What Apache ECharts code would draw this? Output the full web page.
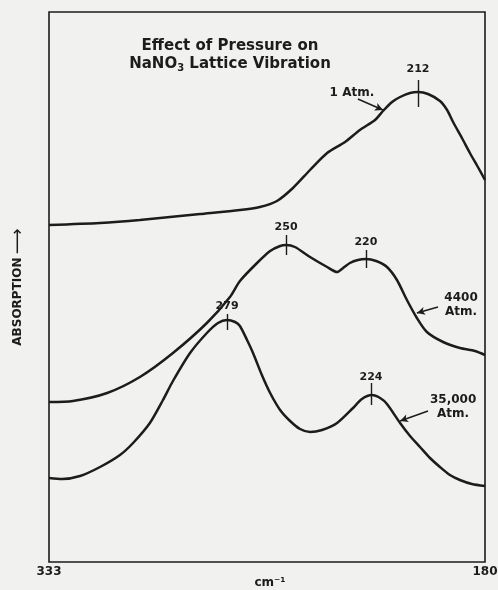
<!DOCTYPE html>
<html>
<head>
<meta charset="utf-8">
<script src="https://cdn.jsdelivr.net/npm/echarts@6/dist/echarts.min.js"></script>
<style>
html,body{margin:0;padding:0;background:#f1f1ef;}
#c{width:498px;height:590px;}
</style>
</head>
<body>
<div id="c"></div>
<script>
// ---- data (x: wavenumber cm^-1, y: absorption, arbitrary units) ----
const atm1X = [333.0,315.1,301.1,280.0,266.0,259.0,253.0,247.4,241.4,235.4,229.1,223.9,218.6,215.8,212.6,209.8,206.3,203.5,200.0,195.8,193.3,191.2,188.1,185.3,182.5,180.0];
const atm1Y = [67.4,67.8,68.4,69.6,70.4,71.0,72.2,74.8,78.4,81.8,84.0,86.4,88.4,90.2,92.0,93.0,93.8,94.0,93.6,92.2,90.4,88.0,84.8,81.8,79.0,76.4];

const atm4400X = [333.0,324.6,312.6,301.1,289.5,277.6,269.5,266.0,260.0,255.4,251.9,249.8,246.7,241.4,235.4,231.9,229.8,227.4,224.6,221.8,218.2,214.4,210.9,207.4,203.9,200.4,194.7,188.8,183.5,180.0];
const atm4400Y = [32.0,32.2,33.8,37.0,41.8,47.8,53.0,56.2,59.8,62.2,63.2,63.4,63.0,61.0,59.0,58.0,58.8,59.8,60.4,60.6,60.2,59.0,56.4,52.4,48.8,46.0,44.0,42.8,42.2,41.4];

const atm35000X = [333.0,328.4,322.1,315.1,308.1,303.5,297.6,293.0,289.5,283.5,277.6,273.7,270.5,267.7,266.0,263.5,261.4,258.3,255.4,251.9,248.4,244.9,241.4,237.2,231.9,226.3,223.2,219.7,216.8,214.4,209.8,206.3,202.8,199.3,195.8,192.3,188.8,184.6,180.0];
const atm35000Y = [16.8,16.6,17.2,19.0,21.4,23.8,27.8,32.4,36.2,41.8,45.8,47.8,48.4,48.0,47.2,44.4,41.8,37.4,33.8,30.4,28.2,26.6,26.0,26.4,27.8,30.8,32.6,33.4,32.8,31.6,27.8,25.2,23.0,20.8,19.0,17.4,16.4,15.6,15.2];

// x-axis end labels
const xTickValues = [333, 180];
const xTickLabels = ['333', '180'];

// peak markers
const peakLabels = ['212', '250', '220', '279', '224'];
const peakX = [203.5, 249.8, 221.8, 270.5, 220.0];
const peakTickTop = [96.4, 65.4, 62.4, 49.6, 35.8];
const peakTickBottom = [91.0, 61.4, 58.8, 46.4, 31.4];
const peakLabelY = [98.6, 67.0, 64.0, 51.2, 37.0];

// curve labels and arrows
const curveNames = ['1 Atm.', '4400\nAtm.', '35,000\nAtm.'];
const curveLabelX = [226.7, 188.4, 191.2];
const curveLabelY = [93.8, 51.4, 31.0];
const arrowFromX = [224.6, 196.5, 200.0];
const arrowFromY = [92.6, 51.0, 30.2];
const arrowToX = [215.8, 203.9, 209.8];
const arrowToY = [90.4, 49.8, 28.2];

const zip = (xs, ys) => xs.map((x, i) => [x, ys[i]]);
const INK = '#1c1c1c';
const FONT = 'DejaVu Sans';

const chart = echarts.init(document.getElementById('c'), null, {renderer: 'canvas'});

const curveSeries = (name, xs, ys) => ({
  name: name, type: 'line', data: zip(xs, ys), showSymbol: false, smooth: 0.25,
  lineStyle: {color: INK, width: 2.5}, silent: true
});

const option = {
  backgroundColor: '#f1f1ef',
  animation: false,
  title: {
    text: 'Effect of Pressure on\n{n|NaNO}{s|3}{n| Lattice Vibration}',
    left: 225, top: 32, textAlign: 'center',
    textStyle: {
      fontFamily: FONT, fontSize: 15, fontWeight: 'bold', color: INK, lineHeight: 18,
      rich: {
        n: {fontFamily: FONT, fontSize: 15, fontWeight: 'bold', color: INK, lineHeight: 18},
        s: {fontFamily: FONT, fontSize: 10, fontWeight: 'bold', color: INK, lineHeight: 9, verticalAlign: 'bottom'}
      }
    }
  },
  grid: {left: 49, right: 13, top: 12, bottom: 28, outerBoundsMode: 'none', containLabel: false,
         show: true, borderColor: INK, borderWidth: 1.6, backgroundColor: 'transparent'},
  xAxis: {
    type: 'value', min: 180, max: 333, inverse: true,
    name: 'cm⁻¹', nameLocation: 'middle', nameGap: 15, nameMoveOverlap: false,
    nameTextStyle: {fontFamily: FONT, fontSize: 12, fontWeight: 'bold', color: INK, padding: [0, 0, 0, 6]},
    axisLine: {show: false}, axisTick: {show: false}, splitLine: {show: false},
    axisLabel: {
      customValues: xTickValues, margin: 4, showMinLabel: true, showMaxLabel: true,
      fontFamily: FONT, fontSize: 12, fontWeight: 'bold', color: INK,
      formatter: v => xTickLabels[xTickValues.indexOf(v)] || ''
    }
  },
  yAxis: {
    type: 'value', min: 0, max: 110,
    name: '{t|ABSORPTION} {a|⟶}', nameLocation: 'middle', nameGap: 22, nameRotate: 90, nameMoveOverlap: false,
    nameTextStyle: {rich: {
      t: {fontFamily: FONT, fontSize: 12, fontWeight: 'bold', color: INK},
      a: {fontFamily: FONT, fontSize: 18, color: INK}
    }},
    axisLine: {show: false}, axisTick: {show: false}, splitLine: {show: false}, axisLabel: {show: false}
  },
  series: [
    curveSeries('1 Atm.', atm1X, atm1Y),
    curveSeries('4400 Atm.', atm4400X, atm4400Y),
    curveSeries('35,000 Atm.', atm35000X, atm35000Y),
    {
      name: 'peaks', type: 'scatter', symbolSize: 0, silent: true, itemStyle: {opacity: 1},
      data: peakX.map((x, i) => ({value: [x, peakLabelY[i]], name: peakLabels[i]})),
      label: {show: true, position: 'inside', formatter: p => p.name, fontFamily: FONT, fontSize: 11, fontWeight: 'bold', color: INK},
      markLine: {
        silent: true, symbol: ['none', 'none'], label: {show: false},
        lineStyle: {color: INK, width: 1.4, type: 'solid', opacity: 1},
        data: peakX.map((x, i) => [{coord: [x, peakTickTop[i]]}, {coord: [x, peakTickBottom[i]]}])
      }
    },
    {
      name: 'curveLabels', type: 'scatter', symbolSize: 0, silent: true, itemStyle: {opacity: 1},
      data: curveLabelX.map((x, i) => ({value: [x, curveLabelY[i]], name: curveNames[i]})),
      label: {show: true, position: 'inside', formatter: p => p.name, fontFamily: FONT, fontSize: 12, fontWeight: 'bold', color: INK, lineHeight: 14},
      markLine: {
        silent: true, symbol: ['none', 'arrow'], symbolSize: [6, 8], label: {show: false},
        lineStyle: {color: INK, width: 1.4, type: 'solid', curveness: 0.25, opacity: 1},
        data: arrowFromX.map((x, i) => [{coord: [x, arrowFromY[i]]}, {coord: [arrowToX[i], arrowToY[i]]}])
      }
    }
  ]
};
chart.setOption(option);
</script>
</body>
</html>
